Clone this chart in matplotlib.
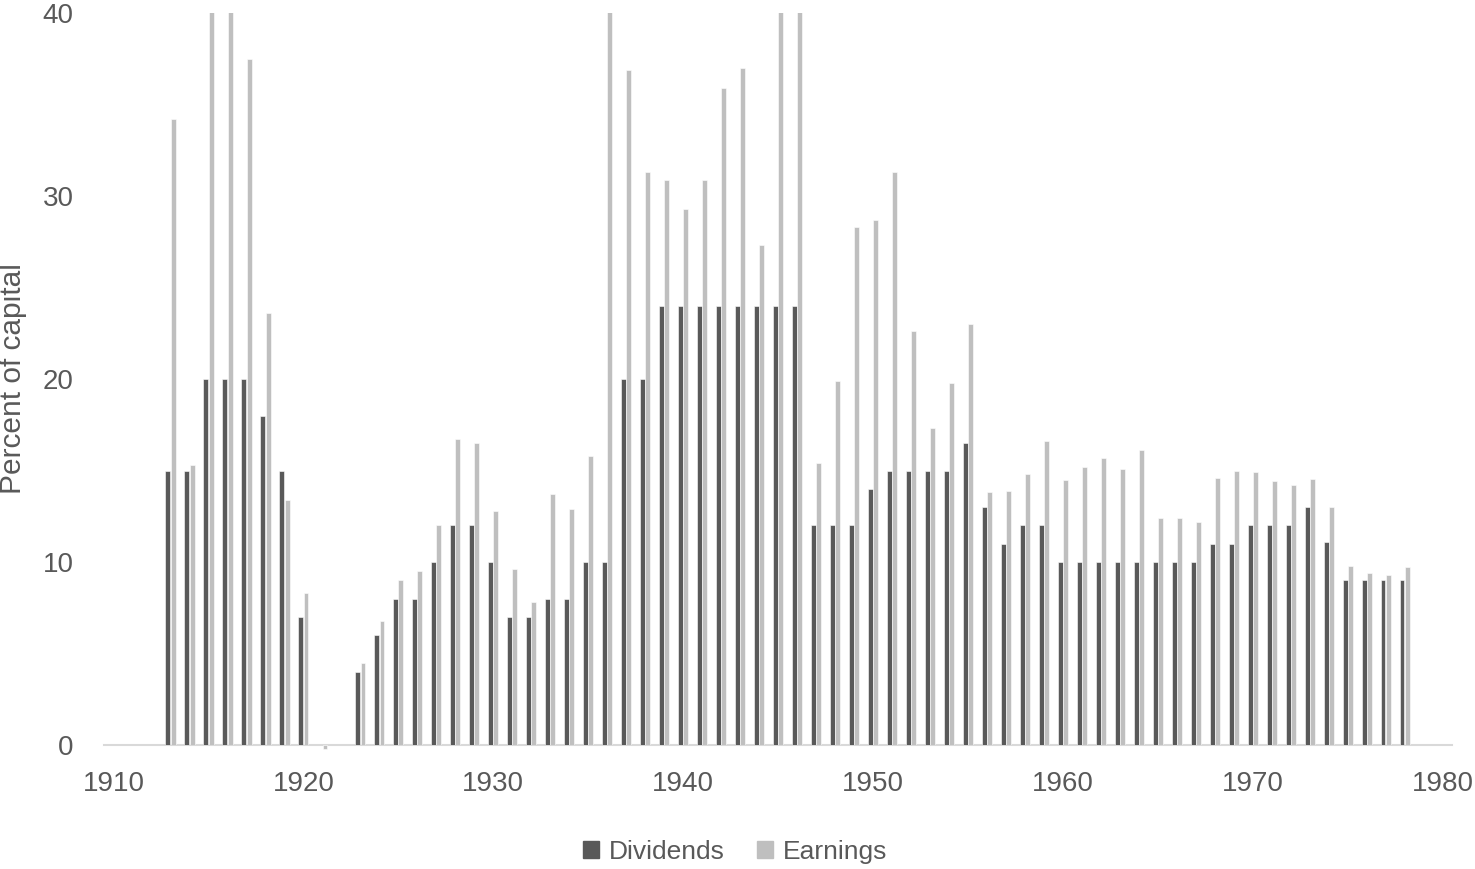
import numpy as np
import matplotlib.pyplot as plt
from matplotlib.patches import Patch

plt.rcParams['font.family'] = ['Liberation Sans', 'DejaVu Sans']

years = list(range(1913, 1979))

# percent of capital; nan = no bar drawn. Earnings above 40 run off the top of the chart
dividends = [15, 15, 20, 20, 20, 18, 15, 7, 0, np.nan,
             4, 6, 8, 8, 10, 12, 12, 10, 7, 7,
             8, 8, 10, 10, 20, 20, 24, 24, 24, 24,
             24, 24, 24, 24, 12, 12, 12, 14, 15, 15,
             15, 15, 16.5, 13, 11, 12, 12, 10, 10, 10,
             10, 10, 10, 10, 10, 11, 11, 12, 12, 12,
             13, 11.1, 9, 9, 9, 9]
earnings = [34.2, 15.3, 42, 42, 37.5, 23.6, 13.4, 8.3, -0.2, np.nan,
            4.5, 6.8, 9.0, 9.5, 12, 16.7, 16.5, 12.8, 9.6, 7.8,
            13.7, 12.9, 15.8, 42, 36.9, 31.3, 30.9, 29.3, 30.9, 35.9,
            37.0, 27.3, 42, 42, 15.4, 19.9, 28.3, 28.7, 31.3, 22.6,
            17.3, 19.8, 23.0, 13.8, 13.9, 14.8, 16.6, 14.5, 15.2, 15.7,
            15.1, 16.1, 12.4, 12.4, 12.2, 14.6, 15.0, 14.9, 14.4, 14.2,
            14.55, 13.0, 9.8, 9.4, 9.3, 9.7]

dark = '#595959'
light = '#bfbfbf'
text_color = '#595959'

fig = plt.figure(figsize=(14.75, 8.69), dpi=100)
ax = fig.add_axes([0.0705, 0.1427, 0.914, 0.8423])

x = np.array(years)
w = 0.26
ax.bar(x - 0.14, dividends, width=w, color=dark, edgecolor='white', linewidth=0.4)
bars_e = ax.bar(x + 0.14, earnings, width=w, color=light, edgecolor='white', linewidth=0.4)
# the small negative earnings bar pokes below the axis line
for b, v in zip(bars_e, earnings):
    if v < 0:
        b.set_clip_on(False)

ax.set_xlim(1909.5, 1980.5)
ax.set_ylim(0, 40)
ax.set_xticks(range(1910, 1981, 10))
ax.set_yticks([0, 10, 20, 30, 40])

for s in ['top', 'right', 'left']:
    ax.spines[s].set_visible(False)
ax.spines['bottom'].set_color('#d9d9d9')
ax.spines['bottom'].set_linewidth(1.5)
ax.spines['bottom'].set_zorder(0.5)
ax.tick_params(axis='both', length=0, labelsize=20, labelcolor=text_color)
ax.tick_params(axis='x', pad=19)
ax.tick_params(axis='y', pad=22)

fig.text(13 / 1475, 1 - 379 / 869, 'Percent of capital', rotation=90,
         ha='center', va='center', fontsize=21.5, color=text_color)

handles = [Patch(color=dark, label='Dividends'), Patch(color=light, label='Earnings')]
fig.legend(handles=handles, loc='center', bbox_to_anchor=(0.4985, 0.0196), ncol=2,
           frameon=False, fontsize=19, labelcolor=text_color,
           handlelength=0.6, handleheight=0.6, handletextpad=0.38, columnspacing=1.2)

fig.savefig('out.png', dpi=100)
